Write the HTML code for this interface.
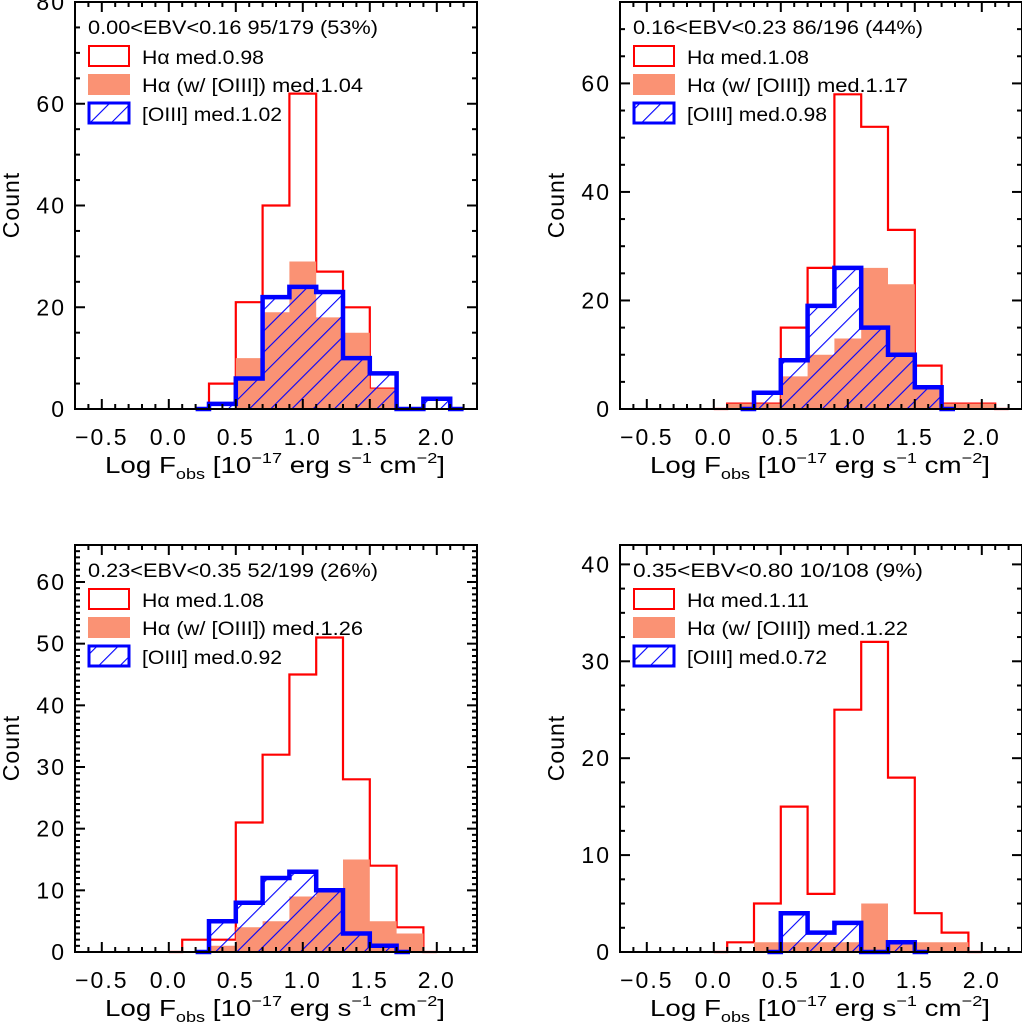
<!DOCTYPE html>
<html><head><meta charset="utf-8"><style>
html,body{margin:0;padding:0;background:#fff;}
svg{display:block;font-family:"Liberation Sans",sans-serif;}
</style></head><body>
<svg id="fig" width="1022" height="1023" viewBox="0 0 1022 1023" xmlns="http://www.w3.org/2000/svg">
<defs>
<pattern id="hatch" patternUnits="userSpaceOnUse" width="15" height="15" patternTransform="rotate(45)">
<line x1="0" y1="0" x2="0" y2="15" stroke="#0000ff" stroke-width="2.2"/>
</pattern>
</defs>
</svg>
<script>
// ---- data (counts per 0.2-dex bin; start = lower edge of first bin) ----
const panelTitles = ["0.00<EBV<0.16 95/179 (53%)","0.16<EBV<0.23 86/196 (44%)","0.23<EBV<0.35 52/199 (26%)","0.35<EBV<0.80 10/108 (9%)"];
const redLabels = ["Hα med.0.98","Hα med.1.08","Hα med.1.08","Hα med.1.11"];
const salmonLabels = ["Hα (w/ [OIII]) med.1.04","Hα (w/ [OIII]) med.1.17","Hα (w/ [OIII]) med.1.26","Hα (w/ [OIII]) med.1.22"];
const blueLabels = ["[OIII] med.1.02","[OIII] med.0.98","[OIII] med.0.92","[OIII] med.0.72"];
const redStart = [0.3, 0.1, 0.1, 0.1];
const redCounts = [[5,21,40,62,27,20,4],[1,1,15,26,58,52,33,8,1,1],[2,2,21,32,45,51,28,14,4],[1,5,15,6,25,32,18,4,2]];
const salmonStart = [0.5, 0.1, 0.3, 0.3];
const salmonCounts = [[10,19,29,18,15,4],[1,1,6,10,13,26,23,4,1,1],[1,4,5,9,10,15,5,3],[1,1,1,1,5,1,1,1]];
const blueStart = [0.3, 0.3, 0.3, 0.5];
const blueCounts = [[1,6,22,24,23,10,7,0,2],[3,9,19,26,15,10,4],[5,8,12,13,10,3,1],[4,2,3,0,1]];
const yMax = [80, 75, 66, 42];
const yMajor = [20, 20, 10, 10];
const yMinor = [5, 5, 1, 2.5];
const xTickLabels = ["−0.5","0.0","0.5","1.0","1.5","2.0"];
const xTickValues = [-0.5,0,0.5,1.0,1.5,2.0];
const BIN = 0.2, XMIN = -0.7, XMAX = 2.3;

const NS = "http://www.w3.org/2000/svg";
const svg = document.getElementById('fig');
function mk(tag, attrs, parent){const e=document.createElementNS(NS,tag);for(const k in attrs)e.setAttribute(k,attrs[k]);(parent||svg).appendChild(e);return e;}

const offsets = [[0,0],[545,0],[0,543],[545,543]];
for (let p=0;p<4;p++){
  const ox=offsets[p][0], oy=offsets[p][1];
  const L=75+ox, R=477+ox, T=2+oy, B=409+oy;
  const X=v=>L+(v-XMIN)/(XMAX-XMIN)*(R-L);
  const Y=c=>B-c/yMax[p]*(B-T);
  const g=mk('g',{});
  
  
  function stepPts(start,counts){
    const pts=[[X(start-0.1),Y(0)],[X(start),Y(0)]];
    counts.forEach((c,i)=>{const a=start+i*BIN,b=a+BIN;pts.push([X(a),Y(c)],[X(b),Y(c)]);});
    const end=start+counts.length*BIN;
    pts.push([X(end),Y(0)],[X(end+0.1),Y(0)]);
    return pts;
  }
  const ps=pts=>pts.map(q=>q[0].toFixed(1)+','+q[1].toFixed(1)).join(' ');
  const red=mk('polyline',{points:ps(stepPts(redStart[p],redCounts[p])),fill:'none',stroke:'#ff0000','stroke-width':2.2},g);
  
  
  const sal=mk('polygon',{points:ps(stepPts(salmonStart[p],salmonCounts[p])),fill:'#fa9274',stroke:'none'},g);
  
  
  const bp=ps(stepPts(blueStart[p],blueCounts[p]));
  const bh=mk('polygon',{points:bp,fill:'url(#hatch)',stroke:'none'},g);
  
  
  const bl=mk('polyline',{points:bp,fill:'none',stroke:'#0000ff','stroke-width':4.5},g);
  
  
  const fr=mk('rect',{x:L,y:T,width:R-L,height:B-T,fill:'none',stroke:'#000','stroke-width':2},g);
  
  
  for(let k=-6;k<=22;k++){
    const v=k/10, x=X(v), major=(k%5===0), len=major?10:5;
    mk('line',{x1:x,y1:B,x2:x,y2:B-len,stroke:'#000','stroke-width':2},g);
    mk('line',{x1:x,y1:T,x2:x,y2:T+len,stroke:'#000','stroke-width':2},g);
  }
  xTickValues.forEach((v,i)=>{
    const t=mk('text',{x:X(v),y:B+36,'text-anchor':'middle','font-size':23,'letter-spacing':2,fill:'#000'},g);
    t.textContent=xTickLabels[i];
    
    
  });
  for(let v=0;v<=yMax[p]+1e-6;v+=yMinor[p]){
    const y=Y(v), major=Math.abs(v/yMajor[p]-Math.round(v/yMajor[p]))<1e-6, len=major?10:5;
    mk('line',{x1:L,y1:y,x2:L+len,y2:y,stroke:'#000','stroke-width':2},g);
    mk('line',{x1:R,y1:y,x2:R-len,y2:y,stroke:'#000','stroke-width':2},g);
  }
  for(let v=0;v<=yMax[p];v+=yMajor[p]){
    const t=mk('text',{x:L-9,y:Y(v)+8,'text-anchor':'end','font-size':23,'letter-spacing':2,fill:'#000'},g);
    t.textContent=String(v);
    
    
  }
  const yt=mk('text',{x:0,y:0,'text-anchor':'middle','font-size':23,'letter-spacing':1,fill:'#000',transform:`translate(${ox+19},${oy+205}) rotate(-90)`},g);
  yt.textContent='Count';
  
  
  const xt=mk('text',{x:ox+105,y:oy+473,'font-size':23,fill:'#000',textLength:340,lengthAdjust:'spacingAndGlyphs'},g);
  
  
  xt.innerHTML='Log F<tspan font-size="15" dy="6">obs</tspan><tspan dy="-6"> [10</tspan><tspan font-size="15" dy="-10">−17</tspan><tspan dy="10"> erg s</tspan><tspan font-size="15" dy="-10">−1</tspan><tspan dy="10"> cm</tspan><tspan font-size="15" dy="-10">−2</tspan><tspan dy="10">]</tspan>';
  const lg=mk('g',{},g);
  
  
  const tt=mk('text',{x:ox+88,y:oy+34,'font-size':19,fill:'#000',textLength:290,lengthAdjust:'spacingAndGlyphs'},lg);
  tt.textContent=panelTitles[p];
  
  
  const e1=mk('rect',{x:ox+89,y:oy+46,width:40,height:20,fill:'none',stroke:'#ff0000','stroke-width':2},lg);
  
  
  const e2=mk('rect',{x:ox+88,y:oy+74,width:42,height:21,fill:'#fa9274'},lg);
  
  
  const e3=mk('rect',{x:ox+89,y:oy+103,width:40,height:20,fill:'url(#hatch)',stroke:'#0000ff','stroke-width':3},lg);
  
  
  const lab=[redLabels[p],salmonLabels[p],blueLabels[p]], ly=[64,92,121], lw=[122,221,140];
  lab.forEach((s,i)=>{
    const t=mk('text',{x:ox+142,y:oy+ly[i],'font-size':19,fill:'#000',textLength:lw[i],lengthAdjust:'spacingAndGlyphs'},lg);
    t.textContent=s;
    
    
  });
}
</script>
</body></html>
